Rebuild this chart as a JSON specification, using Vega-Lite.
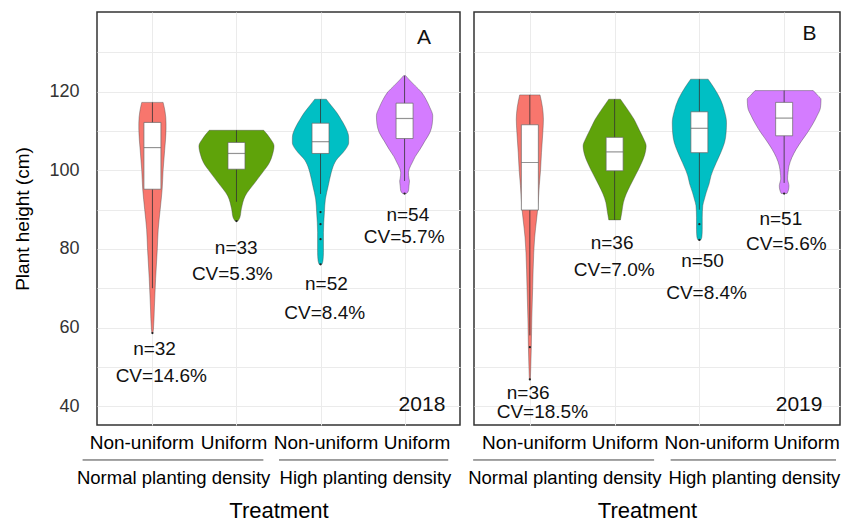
{
  "$schema": "https://vega.github.io/schema/vega-lite/v6.json",
  "padding": {"left": 13, "top": 11, "right": 0, "bottom": 0},
  "spacing": 6,
  "config": {
    "font": "Liberation Sans",
    "view": {"stroke": "#333333", "strokeWidth": 1.5},
    "axis": {"labelFont": "Liberation Sans", "titleFont": "Liberation Sans"}
  },
  "datasets": {
    "violin": [
      {"yr": 2018, "cat": 1, "v": 117.3, "w": 0.127}, {"yr": 2018, "cat": 1, "v": 115, "w": 0.15}, {"yr": 2018, "cat": 1, "v": 112, "w": 0.162}, {"yr": 2018, "cat": 1, "v": 110.5, "w": 0.162}, {"yr": 2018, "cat": 1, "v": 105, "w": 0.145}, {"yr": 2018, "cat": 1, "v": 100, "w": 0.127}, {"yr": 2018, "cat": 1, "v": 95.3, "w": 0.116}, {"yr": 2018, "cat": 1, "v": 90, "w": 0.092}, {"yr": 2018, "cat": 1, "v": 85, "w": 0.069}, {"yr": 2018, "cat": 1, "v": 80, "w": 0.058}, {"yr": 2018, "cat": 1, "v": 72.4, "w": 0.038}, {"yr": 2018, "cat": 1, "v": 65, "w": 0.023}, {"yr": 2018, "cat": 1, "v": 59.6, "w": 0.012}, {"yr": 2018, "cat": 1, "v": 58.6, "w": 0.006},
      {"yr": 2018, "cat": 2, "v": 110.2, "w": 0.324}, {"yr": 2018, "cat": 2, "v": 108, "w": 0.405}, {"yr": 2018, "cat": 2, "v": 106.2, "w": 0.447}, {"yr": 2018, "cat": 2, "v": 104, "w": 0.428}, {"yr": 2018, "cat": 2, "v": 102, "w": 0.393}, {"yr": 2018, "cat": 2, "v": 99.5, "w": 0.312}, {"yr": 2018, "cat": 2, "v": 96.9, "w": 0.22}, {"yr": 2018, "cat": 2, "v": 93.5, "w": 0.104}, {"yr": 2018, "cat": 2, "v": 90.2, "w": 0.058}, {"yr": 2018, "cat": 2, "v": 88, "w": 0.04}, {"yr": 2018, "cat": 2, "v": 87.1, "w": 0.017},
      {"yr": 2018, "cat": 3, "v": 118.1, "w": 0.069}, {"yr": 2018, "cat": 3, "v": 116.5, "w": 0.127}, {"yr": 2018, "cat": 3, "v": 114.7, "w": 0.193}, {"yr": 2018, "cat": 3, "v": 113, "w": 0.243}, {"yr": 2018, "cat": 3, "v": 111.3, "w": 0.289}, {"yr": 2018, "cat": 3, "v": 108.4, "w": 0.335}, {"yr": 2018, "cat": 3, "v": 107, "w": 0.335}, {"yr": 2018, "cat": 3, "v": 105.8, "w": 0.312}, {"yr": 2018, "cat": 3, "v": 104.5, "w": 0.266}, {"yr": 2018, "cat": 3, "v": 102.9, "w": 0.197}, {"yr": 2018, "cat": 3, "v": 101, "w": 0.15}, {"yr": 2018, "cat": 3, "v": 99.4, "w": 0.127}, {"yr": 2018, "cat": 3, "v": 96.1, "w": 0.092}, {"yr": 2018, "cat": 3, "v": 92.7, "w": 0.058}, {"yr": 2018, "cat": 3, "v": 89.2, "w": 0.046}, {"yr": 2018, "cat": 3, "v": 84.2, "w": 0.035}, {"yr": 2018, "cat": 3, "v": 79.1, "w": 0.035}, {"yr": 2018, "cat": 3, "v": 77, "w": 0.029}, {"yr": 2018, "cat": 3, "v": 76.1, "w": 0.017},
      {"yr": 2018, "cat": 4, "v": 124.1, "w": 0.012}, {"yr": 2018, "cat": 4, "v": 123, "w": 0.058}, {"yr": 2018, "cat": 4, "v": 121.5, "w": 0.127}, {"yr": 2018, "cat": 4, "v": 120, "w": 0.197}, {"yr": 2018, "cat": 4, "v": 118.1, "w": 0.254}, {"yr": 2018, "cat": 4, "v": 116, "w": 0.301}, {"yr": 2018, "cat": 4, "v": 113.9, "w": 0.335}, {"yr": 2018, "cat": 4, "v": 111.8, "w": 0.329}, {"yr": 2018, "cat": 4, "v": 109.6, "w": 0.301}, {"yr": 2018, "cat": 4, "v": 107.5, "w": 0.243}, {"yr": 2018, "cat": 4, "v": 105.4, "w": 0.185}, {"yr": 2018, "cat": 4, "v": 103.5, "w": 0.127}, {"yr": 2018, "cat": 4, "v": 102, "w": 0.092}, {"yr": 2018, "cat": 4, "v": 100.5, "w": 0.058}, {"yr": 2018, "cat": 4, "v": 99.4, "w": 0.046}, {"yr": 2018, "cat": 4, "v": 98, "w": 0.052}, {"yr": 2018, "cat": 4, "v": 97.3, "w": 0.058}, {"yr": 2018, "cat": 4, "v": 96, "w": 0.052}, {"yr": 2018, "cat": 4, "v": 94.8, "w": 0.046}, {"yr": 2018, "cat": 4, "v": 94.1, "w": 0.023},
      {"yr": 2019, "cat": 1, "v": 119.2, "w": 0.12}, {"yr": 2019, "cat": 1, "v": 116, "w": 0.149}, {"yr": 2019, "cat": 1, "v": 113, "w": 0.16}, {"yr": 2019, "cat": 1, "v": 110, "w": 0.154}, {"yr": 2019, "cat": 1, "v": 104.5, "w": 0.137}, {"yr": 2019, "cat": 1, "v": 100, "w": 0.126}, {"yr": 2019, "cat": 1, "v": 96.1, "w": 0.111}, {"yr": 2019, "cat": 1, "v": 90, "w": 0.092}, {"yr": 2019, "cat": 1, "v": 87.6, "w": 0.08}, {"yr": 2019, "cat": 1, "v": 83, "w": 0.057}, {"yr": 2019, "cat": 1, "v": 79.1, "w": 0.046}, {"yr": 2019, "cat": 1, "v": 70.6, "w": 0.034}, {"yr": 2019, "cat": 1, "v": 62.2, "w": 0.023}, {"yr": 2019, "cat": 1, "v": 55, "w": 0.017}, {"yr": 2019, "cat": 1, "v": 50, "w": 0.011}, {"yr": 2019, "cat": 1, "v": 46.8, "w": 0.006},
      {"yr": 2019, "cat": 2, "v": 118.1, "w": 0.069}, {"yr": 2019, "cat": 2, "v": 116, "w": 0.137}, {"yr": 2019, "cat": 2, "v": 113, "w": 0.229}, {"yr": 2019, "cat": 2, "v": 110, "w": 0.297}, {"yr": 2019, "cat": 2, "v": 108, "w": 0.343}, {"yr": 2019, "cat": 2, "v": 106.2, "w": 0.372}, {"yr": 2019, "cat": 2, "v": 104, "w": 0.355}, {"yr": 2019, "cat": 2, "v": 102, "w": 0.32}, {"yr": 2019, "cat": 2, "v": 99, "w": 0.252}, {"yr": 2019, "cat": 2, "v": 96.1, "w": 0.183}, {"yr": 2019, "cat": 2, "v": 94, "w": 0.137}, {"yr": 2019, "cat": 2, "v": 91.8, "w": 0.103}, {"yr": 2019, "cat": 2, "v": 89.5, "w": 0.086}, {"yr": 2019, "cat": 2, "v": 87.4, "w": 0.069},
      {"yr": 2019, "cat": 3, "v": 123.2, "w": 0.103}, {"yr": 2019, "cat": 3, "v": 121, "w": 0.172}, {"yr": 2019, "cat": 3, "v": 118.1, "w": 0.248}, {"yr": 2019, "cat": 3, "v": 115, "w": 0.297}, {"yr": 2019, "cat": 3, "v": 112.2, "w": 0.32}, {"yr": 2019, "cat": 3, "v": 109.5, "w": 0.315}, {"yr": 2019, "cat": 3, "v": 107.1, "w": 0.297}, {"yr": 2019, "cat": 3, "v": 104.5, "w": 0.252}, {"yr": 2019, "cat": 3, "v": 102, "w": 0.2}, {"yr": 2019, "cat": 3, "v": 100, "w": 0.16}, {"yr": 2019, "cat": 3, "v": 98.6, "w": 0.137}, {"yr": 2019, "cat": 3, "v": 96.5, "w": 0.114}, {"yr": 2019, "cat": 3, "v": 94.3, "w": 0.08}, {"yr": 2019, "cat": 3, "v": 92.5, "w": 0.057}, {"yr": 2019, "cat": 3, "v": 91, "w": 0.04}, {"yr": 2019, "cat": 3, "v": 88, "w": 0.034}, {"yr": 2019, "cat": 3, "v": 85, "w": 0.034}, {"yr": 2019, "cat": 3, "v": 83, "w": 0.029}, {"yr": 2019, "cat": 3, "v": 82.3, "w": 0.017},
      {"yr": 2019, "cat": 4, "v": 120.3, "w": 0.343}, {"yr": 2019, "cat": 4, "v": 119, "w": 0.4}, {"yr": 2019, "cat": 4, "v": 118.1, "w": 0.435}, {"yr": 2019, "cat": 4, "v": 116, "w": 0.429}, {"yr": 2019, "cat": 4, "v": 113.9, "w": 0.389}, {"yr": 2019, "cat": 4, "v": 111.8, "w": 0.338}, {"yr": 2019, "cat": 4, "v": 109.6, "w": 0.275}, {"yr": 2019, "cat": 4, "v": 107.5, "w": 0.206}, {"yr": 2019, "cat": 4, "v": 105.4, "w": 0.143}, {"yr": 2019, "cat": 4, "v": 103.3, "w": 0.092}, {"yr": 2019, "cat": 4, "v": 101.1, "w": 0.057}, {"yr": 2019, "cat": 4, "v": 99.5, "w": 0.046}, {"yr": 2019, "cat": 4, "v": 97.8, "w": 0.04}, {"yr": 2019, "cat": 4, "v": 96.8, "w": 0.051}, {"yr": 2019, "cat": 4, "v": 96.1, "w": 0.057}, {"yr": 2019, "cat": 4, "v": 95, "w": 0.051}, {"yr": 2019, "cat": 4, "v": 94.1, "w": 0.034}
    ],
    "box": [
      {"yr": 2018, "cat": 1, "lo": 70, "q1": 95.2, "med": 105.8, "q3": 112.2, "hi": 117.3},
      {"yr": 2018, "cat": 2, "lo": 92, "q1": 100.3, "med": 104.3, "q3": 107.1, "hi": 110.2},
      {"yr": 2018, "cat": 3, "lo": 94, "q1": 104.3, "med": 107.3, "q3": 112, "hi": 118.1},
      {"yr": 2018, "cat": 4, "lo": 97.3, "q1": 108.1, "med": 113.2, "q3": 117.1, "hi": 124.1},
      {"yr": 2019, "cat": 1, "lo": 58, "q1": 89.9, "med": 102, "q3": 111.6, "hi": 119.2},
      {"yr": 2019, "cat": 2, "lo": 87.4, "q1": 99.9, "med": 104.7, "q3": 108.4, "hi": 118.1},
      {"yr": 2019, "cat": 3, "lo": 90, "q1": 104.5, "med": 110.7, "q3": 114.9, "hi": 123.2},
      {"yr": 2019, "cat": 4, "lo": 96.8, "q1": 108.8, "med": 113.3, "q3": 117.3, "hi": 120.3}
    ],
    "outliers": [
      {"yr": 2018, "cat": 1, "v": 58.6}, {"yr": 2018, "cat": 2, "v": 87.1},
      {"yr": 2018, "cat": 3, "v": 89.4}, {"yr": 2018, "cat": 3, "v": 86.3}, {"yr": 2018, "cat": 3, "v": 82.5}, {"yr": 2018, "cat": 3, "v": 76.1},
      {"yr": 2018, "cat": 4, "v": 94.1},
      {"yr": 2019, "cat": 1, "v": 55}, {"yr": 2019, "cat": 1, "v": 46.8},
      {"yr": 2019, "cat": 3, "v": 86.3}, {"yr": 2019, "cat": 3, "v": 82.3},
      {"yr": 2019, "cat": 4, "v": 94.1}
    ],
    "notes": [
      {"yr": 2018, "at": 1.025, "h": 54.5, "label": "n=32"}, {"yr": 2018, "at": 1.106, "h": 47.6, "label": "CV=14.6%"},
      {"yr": 2018, "at": 1.997, "h": 80.3, "label": "n=33"}, {"yr": 2018, "at": 1.95, "h": 73.7, "label": "CV=5.3%"},
      {"yr": 2018, "at": 3.07, "h": 71.0, "label": "n=52"}, {"yr": 2018, "at": 3.05, "h": 63.8, "label": "CV=8.4%"},
      {"yr": 2018, "at": 4.039, "h": 88.6, "label": "n=54"}, {"yr": 2018, "at": 3.995, "h": 83.0, "label": "CV=5.7%"},
      {"yr": 2019, "at": 0.98, "h": 43.4, "label": "n=36"}, {"yr": 2019, "at": 1.148, "h": 38.5, "label": "CV=18.5%"},
      {"yr": 2019, "at": 1.97, "h": 81.6, "label": "n=36"}, {"yr": 2019, "at": 1.995, "h": 74.6, "label": "CV=7.0%"},
      {"yr": 2019, "at": 3.037, "h": 77.0, "label": "n=50"}, {"yr": 2019, "at": 3.085, "h": 68.9, "label": "CV=8.4%"},
      {"yr": 2019, "at": 3.961, "h": 87.6, "label": "n=51"}, {"yr": 2019, "at": 4.026, "h": 81.2, "label": "CV=5.6%"}
    ],
    "tags": [
      {"yr": 2018, "at": 4.23, "h": 133.8, "label": "A"}, {"yr": 2018, "at": 4.207, "h": 40.3, "label": "2018"},
      {"yr": 2019, "at": 4.298, "h": 134.8, "label": "B"}, {"yr": 2019, "at": 4.176, "h": 40.3, "label": "2019"}
    ],
    "groups": [
      {"yr": 2018, "from": 0.169, "to": 2.32, "at": 1.252, "label": "Normal planting density"},
      {"yr": 2018, "from": 2.506, "to": 4.519, "at": 3.535, "label": "High planting density"},
      {"yr": 2019, "from": 0.331, "to": 2.466, "at": 1.413, "label": "Normal planting density"},
      {"yr": 2019, "from": 2.661, "to": 4.612, "at": 3.65, "label": "High planting density"}
    ]
  },
  "hconcat": [
    {
      "width": 363,
      "height": 413,
      "layer": [
        {
          "data": {"name": "violin"},
          "transform": [
            {"filter": "datum.yr == 2018"},
            {"calculate": "datum.cat - datum.w", "as": "left"},
            {"calculate": "datum.cat + datum.w", "as": "right"}
          ],
          "mark": {"type": "area", "orient": "horizontal", "interpolate": "monotone", "stroke": "#444444", "strokeWidth": 0.5, "strokeOpacity": 0.8},
          "encoding": {
            "y": {
              "field": "v", "type": "quantitative",
              "scale": {"domain": [35.2, 140.3], "nice": false, "zero": false},
              "axis": {
                "values": [40, 50, 60, 70, 80, 90, 100, 110, 120, 130],
                "labelExpr": "datum.value % 20 == 0 ? datum.label : ''",
                "grid": true, "gridColor": "#EBEBEB", "gridWidth": 1,
                "ticks": false, "domain": false,
                "labelFontSize": 18, "labelColor": "#333333", "labelPadding": 18,
                "title": "Plant height (cm)", "titleFontSize": 19, "titleFontWeight": "normal", "titleColor": "#000000", "titlePadding": 16
              }
            },
            "x": {
              "field": "left", "type": "quantitative",
              "scale": {"domain": [0.4, 4.6], "nice": false, "zero": false},
              "axis": {
                "values": [1, 2, 3, 4],
                "labelExpr": "datum.value % 2 == 1 ? 'Non-uniform' : 'Uniform'",
                "grid": true, "gridColor": "#EBEBEB", "gridWidth": 1,
                "ticks": false, "domain": false,
                "labelFontSize": 19, "labelColor": "#000000", "labelPadding": 8,
                "labelOverlap": false, "labelFlush": false,
                "labelOffset": {"condition": [{"test": "datum.value == 1", "value": -11}, {"test": "datum.value == 2", "value": -3}, {"test": "datum.value == 3", "value": 5}], "value": 12},
                "title": "Treatment", "titleFontSize": 22, "titleFontWeight": "normal", "titleColor": "#000000", "titlePadding": 48
              }
            },
            "x2": {"field": "right"},
            "fill": {"field": "cat", "type": "nominal", "scale": {"domain": [1, 2, 3, 4], "range": ["#F8766D", "#5FA30A", "#00BFC4", "#D47CFF"]}, "legend": null}
          }
        },
        {
          "data": {"name": "box"},
          "transform": [{"filter": "datum.yr == 2018"}],
          "mark": {"type": "rule", "color": "#333333", "strokeWidth": 0.8},
          "encoding": {"x": {"field": "cat", "type": "quantitative"}, "y": {"field": "lo", "type": "quantitative"}, "y2": {"field": "hi"}}
        },
        {
          "data": {"name": "box"},
          "transform": [{"filter": "datum.yr == 2018"}],
          "mark": {"type": "bar", "width": 17, "fill": "#ffffff", "stroke": "#666666", "strokeWidth": 0.7},
          "encoding": {"x": {"field": "cat", "type": "quantitative"}, "y": {"field": "q1", "type": "quantitative"}, "y2": {"field": "q3"}}
        },
        {
          "data": {"name": "box"},
          "transform": [{"filter": "datum.yr == 2018"}],
          "mark": {"type": "tick", "orient": "horizontal", "size": 17, "thickness": 1.2, "color": "#666666"},
          "encoding": {"x": {"field": "cat", "type": "quantitative"}, "y": {"field": "med", "type": "quantitative"}}
        },
        {
          "data": {"name": "outliers"},
          "transform": [{"filter": "datum.yr == 2018"}],
          "mark": {"type": "point", "filled": true, "size": 5, "color": "#222222", "opacity": 1},
          "encoding": {"x": {"field": "cat", "type": "quantitative"}, "y": {"field": "v", "type": "quantitative"}}
        },
        {
          "data": {"name": "notes"},
          "transform": [{"filter": "datum.yr == 2018"}],
          "mark": {"type": "text", "fontSize": 19, "color": "#111111", "align": "center", "baseline": "middle"},
          "encoding": {"x": {"field": "at", "type": "quantitative"}, "y": {"field": "h", "type": "quantitative"}, "text": {"field": "label"}}
        },
        {
          "data": {"name": "tags"},
          "transform": [{"filter": "datum.yr == 2018"}],
          "mark": {"type": "text", "fontSize": 21, "color": "#111111", "align": "center", "baseline": "middle"},
          "encoding": {"x": {"field": "at", "type": "quantitative"}, "y": {"field": "h", "type": "quantitative"}, "text": {"field": "label"}}
        },
        {
          "data": {"name": "groups"},
          "transform": [{"filter": "datum.yr == 2018"}],
          "mark": {"type": "rule", "color": "#444444", "strokeWidth": 1},
          "encoding": {"x": {"field": "from", "type": "quantitative"}, "x2": {"field": "to"}, "y": {"datum": 26.3, "type": "quantitative"}}
        },
        {
          "data": {"name": "groups"},
          "transform": [{"filter": "datum.yr == 2018"}],
          "mark": {"type": "text", "fontSize": 18.5, "color": "#000000", "align": "center", "baseline": "middle"},
          "encoding": {"x": {"field": "at", "type": "quantitative"}, "y": {"datum": 21.7, "type": "quantitative"}, "text": {"field": "label"}}
        }
      ]
    },
    {
      "width": 366,
      "height": 413,
      "layer": [
        {
          "data": {"name": "violin"},
          "transform": [
            {"filter": "datum.yr == 2019"},
            {"calculate": "datum.cat - datum.w", "as": "left"},
            {"calculate": "datum.cat + datum.w", "as": "right"}
          ],
          "mark": {"type": "area", "orient": "horizontal", "interpolate": "monotone", "stroke": "#444444", "strokeWidth": 0.5, "strokeOpacity": 0.8},
          "encoding": {
            "y": {
              "field": "v", "type": "quantitative",
              "scale": {"domain": [35.2, 140.3], "nice": false, "zero": false},
              "axis": {
                "values": [40, 50, 60, 70, 80, 90, 100, 110, 120, 130],
                "grid": true, "gridColor": "#EBEBEB", "gridWidth": 1,
                "labels": false, "ticks": false, "domain": false, "title": null,
                "minExtent": 0, "maxExtent": 0
              }
            },
            "x": {
              "field": "left", "type": "quantitative",
              "scale": {"domain": [0.4, 4.6], "nice": false, "zero": false},
              "axis": {
                "values": [1, 2, 3, 4],
                "labelExpr": "datum.value % 2 == 1 ? 'Non-uniform' : 'Uniform'",
                "grid": true, "gridColor": "#EBEBEB", "gridWidth": 1,
                "ticks": false, "domain": false,
                "labelFontSize": 19, "labelColor": "#000000", "labelPadding": 8,
                "labelOverlap": false, "labelFlush": false,
                "labelOffset": {"condition": [{"test": "datum.value == 1", "value": 4}, {"test": "datum.value == 2", "value": 10}, {"test": "datum.value == 3", "value": 17}], "value": 22},
                "title": "Treatment", "titleFontSize": 22, "titleFontWeight": "normal", "titleColor": "#000000", "titlePadding": 48,
                "titleX": 173
              }
            },
            "x2": {"field": "right"},
            "fill": {"field": "cat", "type": "nominal", "scale": {"domain": [1, 2, 3, 4], "range": ["#F8766D", "#5FA30A", "#00BFC4", "#D47CFF"]}, "legend": null}
          }
        },
        {
          "data": {"name": "box"},
          "transform": [{"filter": "datum.yr == 2019"}],
          "mark": {"type": "rule", "color": "#333333", "strokeWidth": 0.8},
          "encoding": {"x": {"field": "cat", "type": "quantitative"}, "y": {"field": "lo", "type": "quantitative"}, "y2": {"field": "hi"}}
        },
        {
          "data": {"name": "box"},
          "transform": [{"filter": "datum.yr == 2019"}],
          "mark": {"type": "bar", "width": 17, "fill": "#ffffff", "stroke": "#666666", "strokeWidth": 0.7},
          "encoding": {"x": {"field": "cat", "type": "quantitative"}, "y": {"field": "q1", "type": "quantitative"}, "y2": {"field": "q3"}}
        },
        {
          "data": {"name": "box"},
          "transform": [{"filter": "datum.yr == 2019"}],
          "mark": {"type": "tick", "orient": "horizontal", "size": 17, "thickness": 1.2, "color": "#666666"},
          "encoding": {"x": {"field": "cat", "type": "quantitative"}, "y": {"field": "med", "type": "quantitative"}}
        },
        {
          "data": {"name": "outliers"},
          "transform": [{"filter": "datum.yr == 2019"}],
          "mark": {"type": "point", "filled": true, "size": 5, "color": "#222222", "opacity": 1},
          "encoding": {"x": {"field": "cat", "type": "quantitative"}, "y": {"field": "v", "type": "quantitative"}}
        },
        {
          "data": {"name": "notes"},
          "transform": [{"filter": "datum.yr == 2019"}],
          "mark": {"type": "text", "fontSize": 19, "color": "#111111", "align": "center", "baseline": "middle"},
          "encoding": {"x": {"field": "at", "type": "quantitative"}, "y": {"field": "h", "type": "quantitative"}, "text": {"field": "label"}}
        },
        {
          "data": {"name": "tags"},
          "transform": [{"filter": "datum.yr == 2019"}],
          "mark": {"type": "text", "fontSize": 21, "color": "#111111", "align": "center", "baseline": "middle"},
          "encoding": {"x": {"field": "at", "type": "quantitative"}, "y": {"field": "h", "type": "quantitative"}, "text": {"field": "label"}}
        },
        {
          "data": {"name": "groups"},
          "transform": [{"filter": "datum.yr == 2019"}],
          "mark": {"type": "rule", "color": "#444444", "strokeWidth": 1},
          "encoding": {"x": {"field": "from", "type": "quantitative"}, "x2": {"field": "to"}, "y": {"datum": 26.3, "type": "quantitative"}}
        },
        {
          "data": {"name": "groups"},
          "transform": [{"filter": "datum.yr == 2019"}],
          "mark": {"type": "text", "fontSize": 18.5, "color": "#000000", "align": "center", "baseline": "middle"},
          "encoding": {"x": {"field": "at", "type": "quantitative"}, "y": {"datum": 21.7, "type": "quantitative"}, "text": {"field": "label"}}
        }
      ]
    }
  ]
}
